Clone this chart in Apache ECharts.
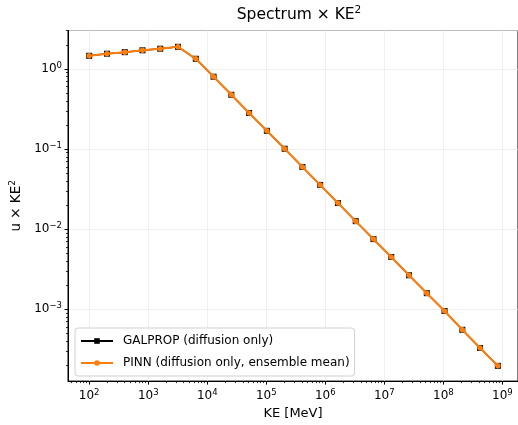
<!DOCTYPE html>
<html><head><meta charset="utf-8">
<script src="https://cdn.jsdelivr.net/npm/echarts@6/dist/echarts.min.js"></script>
<style>html,body{margin:0;padding:0;background:#fff}#c{width:518px;height:425px}</style>
</head><body><div id="c"></div>
<script>
const keMeV = [100, 200, 400, 800, 1600, 3200, 6400, 12800, 25600, 51200, 102400, 204800,
  409600, 819200, 1638400, 3276800, 6553600, 13107200, 26214400, 52428800, 104857600,
  209715200, 419430400, 838860800];
const galprop = [1.46, 1.55, 1.62, 1.71, 1.79, 1.89, 1.34, 0.80, 0.476, 0.282, 0.169, 0.101,
  0.0598, 0.0357, 0.0212, 0.0126, 0.00752, 0.0045, 0.00266, 0.00159, 0.000953, 0.000555,
  0.000329, 0.000197];
const pinn = [1.46, 1.55, 1.62, 1.71, 1.79, 1.89, 1.34, 0.80, 0.476, 0.282, 0.169, 0.101,
  0.0598, 0.0357, 0.0212, 0.0126, 0.00752, 0.0045, 0.00266, 0.00159, 0.000953, 0.000555,
  0.000329, 0.000197];
const seriesNames = ['GALPROP (diffusion only)', 'PINN (diffusion only, ensemble mean)'];
const titleText = 'Spectrum × KE';
const xName = 'KE [MeV]';
const yName = 'u × KE';
const xDecades = [1, 2, 3, 4, 5, 6, 7, 8, 9];
const yDecades = [-4, -3, -2, -1, 0];

const FONT = 'DejaVu Sans';
function minorValues(decades) {
  const out = [];
  decades.forEach(d => { for (let m = 2; m <= 9; m++) out.push(m * Math.pow(10, d)); });
  return out;
}
const supRich = {
  b: {fontFamily: FONT, fontSize: 12, color: '#000', lineHeight: 16},
  s: {fontFamily: FONT, fontSize: 8.5, color: '#000', verticalAlign: 'top', lineHeight: 10}
};
function powLabel(v) {
  const e = Math.log10(v);
  const r = Math.round(e);
  if (Math.abs(e - r) > 1e-6) return '';
  const es = r < 0 ? '\u2212' + (-r) : String(r);
  return '{b|10}{s|' + es + '}';
}
const XMIN = Math.pow(10, 1.641), XMAX = Math.pow(10, 9.265);
const YMIN = Math.pow(10, -3.896), YMAX = Math.pow(10, 0.48);
const minorAxisCommon = {
  type: 'log', logBase: 10, gridIndex: 0,
  axisLine: {show: false}, splitLine: {show: false},
  axisLabel: {show: false},
  axisTick: {show: true, length: 2, lineStyle: {color: '#000', width: 0.8}}
};
const chart = echarts.init(document.getElementById('c'), null, {renderer: 'canvas'});
chart.setOption({
  animation: false,
  backgroundColor: '#fff',
  title: {
    text: '{t|' + titleText + '}{s|2}',
    left: 294, top: 0, textAlign: 'center',
    textStyle: {fontWeight: 'normal', rich: {
      t: {fontFamily: FONT, fontSize: 15.5, fontWeight: 'normal', color: '#000', lineHeight: 20},
      s: {fontFamily: FONT, fontSize: 10.5, fontWeight: 'normal', color: '#000', verticalAlign: 'top', lineHeight: 12}
    }}
  },
  grid: {left: 68, right: -2, top: 30.5, bottom: 41.5, show: true, borderColor: '#000', borderWidth: 1},
  legend: {
    left: 75, top: 328, orient: 'vertical',
    itemWidth: 32, itemHeight: 7, itemGap: 8,
    padding: [6, 5, 6, 5],
    backgroundColor: '#fff', borderColor: '#d0d0d0', borderWidth: 1, borderRadius: 3,
    textStyle: {fontFamily: FONT, fontSize: 12, color: '#000', lineHeight: 14, padding: [0, 0, 0, 5]},
    data: seriesNames
  },
  xAxis: [{
    type: 'log', logBase: 10, gridIndex: 0,
    min: XMIN, max: XMAX,
    name: xName, nameLocation: 'middle', nameGap: 23,
    nameTextStyle: {fontFamily: FONT, fontSize: 13, color: '#000'},
    axisLine: {show: true, lineStyle: {color: '#000', width: 1}},
    axisTick: {show: true, length: 3.5, lineStyle: {color: '#000'}},
    axisLabel: {formatter: powLabel, rich: supRich, margin: 7, showMinLabel: false, showMaxLabel: false},
    splitLine: {show: true, lineStyle: {color: '#ebebeb', width: 0.8}}
  }, Object.assign({}, minorAxisCommon, {
    min: XMIN, max: XMAX, position: 'bottom',
    axisTick: {show: true, length: 2, lineStyle: {color: '#000', width: 0.8}, customValues: minorValues(xDecades)}
  })],
  yAxis: [{
    type: 'log', logBase: 10, gridIndex: 0,
    min: YMIN, max: YMAX,
    name: '{b|' + yName + '}{s|2}', nameLocation: 'middle', nameGap: 41,
    nameTextStyle: {rich: {
      b: {fontFamily: FONT, fontSize: 13.5, color: '#000', lineHeight: 16},
      s: {fontFamily: FONT, fontSize: 9, color: '#000', verticalAlign: 'top', lineHeight: 10}
    }},
    axisLine: {show: true, lineStyle: {color: '#000', width: 1}},
    axisTick: {show: true, length: 3.5, lineStyle: {color: '#000'}},
    axisLabel: {formatter: powLabel, rich: supRich, margin: 6, showMinLabel: false, showMaxLabel: false},
    splitLine: {show: true, lineStyle: {color: '#ebebeb', width: 0.8}}
  }, Object.assign({}, minorAxisCommon, {
    min: YMIN, max: YMAX, position: 'left',
    axisTick: {show: true, length: 2, lineStyle: {color: '#000', width: 0.8}, customValues: minorValues(yDecades)}
  })],
  series: [
    {
      name: seriesNames[0], type: 'line', xAxisIndex: 0, yAxisIndex: 0,
      data: keMeV.map((x, i) => [x, galprop[i]]),
      symbol: 'rect', symbolSize: 6,
      lineStyle: {color: '#000', width: 1.5},
      itemStyle: {color: '#000'}, z: 2
    },
    {
      name: seriesNames[1], type: 'line', xAxisIndex: 0, yAxisIndex: 0,
      data: keMeV.map((x, i) => [x, pinn[i]]),
      symbol: 'circle', symbolSize: 5.5,
      lineStyle: {color: '#ff7f0e', width: 2},
      itemStyle: {color: '#ff7f0e'}, z: 3
    }
  ]
});
</script>
</body></html>
